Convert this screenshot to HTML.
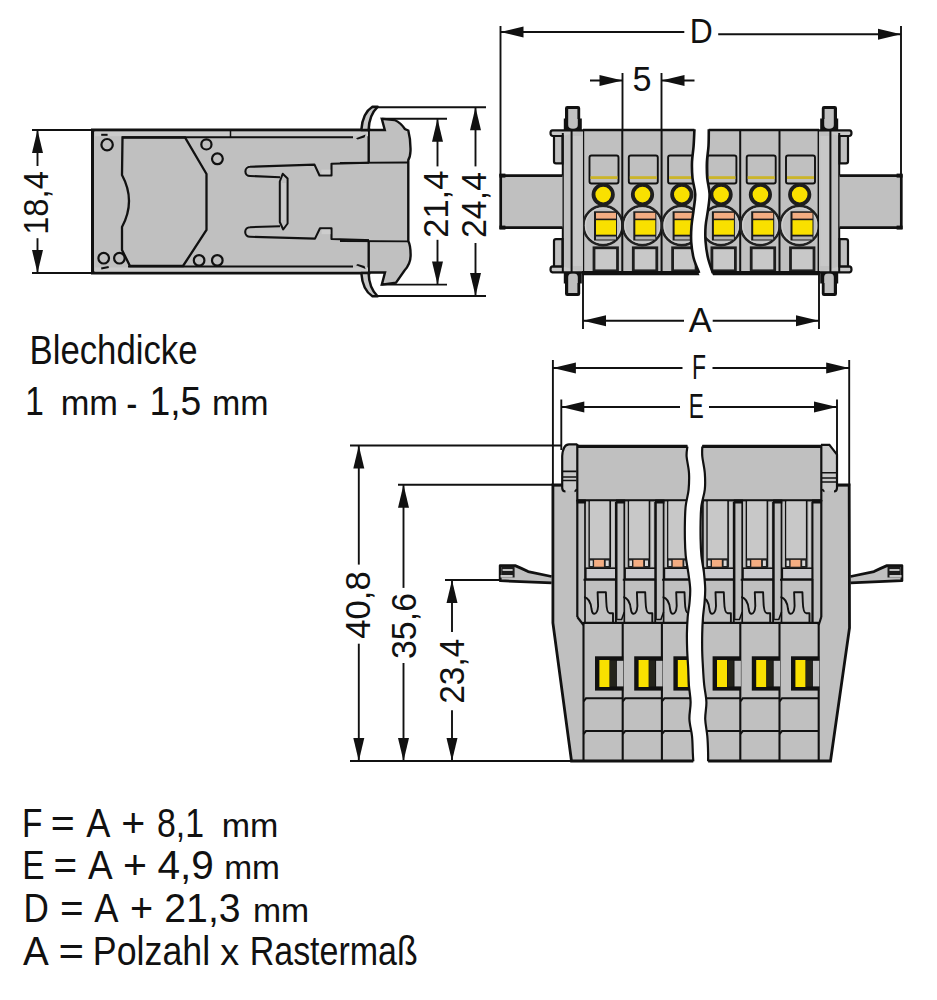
<!DOCTYPE html>
<html><head><meta charset="utf-8"><style>
html,body{margin:0;padding:0;background:#fff;}
svg{display:block;}
text{font-family:"Liberation Sans",sans-serif;fill:#111;}
</style></head><body>
<svg width="937" height="1000" viewBox="0 0 937 1000">
<rect width="937" height="1000" fill="#fff"/>
<text x="29.5" y="364.3" font-size="41.5" text-anchor="start" textLength="168" lengthAdjust="spacingAndGlyphs">Blechdicke</text>
<text transform="translate(25.29,415.40) scale(0.8200,1.000)" x="0" y="0" font-size="40.8">1</text>
<text transform="translate(60.68,415.40) scale(0.8428,0.860)" x="0" y="0" font-size="40.8">mm</text>
<text transform="translate(126.14,417.40) scale(0.8200,1.000)" x="0" y="0" font-size="40.8">-</text>
<text transform="translate(149.42,415.40) scale(0.9149,1.000)" x="0" y="0" font-size="40.8">1,5</text>
<text transform="translate(212.11,415.40) scale(0.8316,0.860)" x="0" y="0" font-size="40.8">mm</text>
<text transform="translate(21.88,836.80) scale(0.8200,1.000)" x="0" y="0" font-size="40.8">F</text>
<text transform="translate(50.82,836.80) scale(1.0071,1.000)" x="0" y="0" font-size="40.8">=</text>
<text transform="translate(86.31,836.80) scale(0.8877,1.000)" x="0" y="0" font-size="40.8">A</text>
<text transform="translate(121.32,836.80) scale(1.0071,1.000)" x="0" y="0" font-size="40.8">+</text>
<text transform="translate(156.93,836.80) scale(0.8303,1.000)" x="0" y="0" font-size="40.8">8,1</text>
<text transform="translate(221.71,836.80) scale(0.8332,0.820)" x="0" y="0" font-size="40.8">mm</text>
<text transform="translate(22.19,879.20) scale(0.8200,1.000)" x="0" y="0" font-size="40.8">E</text>
<text transform="translate(53.55,879.20) scale(0.9920,1.000)" x="0" y="0" font-size="40.8">=</text>
<text transform="translate(87.91,879.20) scale(0.9062,1.000)" x="0" y="0" font-size="40.8">A</text>
<text transform="translate(122.92,879.20) scale(1.0071,1.000)" x="0" y="0" font-size="40.8">+</text>
<text transform="translate(157.52,879.20) scale(0.9949,1.000)" x="0" y="0" font-size="40.8">4,9</text>
<text transform="translate(224.14,879.20) scale(0.8204,0.820)" x="0" y="0" font-size="40.8">mm</text>
<text transform="translate(23.53,922.40) scale(0.8600,1.000)" x="0" y="0" font-size="40.8">D</text>
<text transform="translate(59.95,922.40) scale(0.9920,1.000)" x="0" y="0" font-size="40.8">=</text>
<text transform="translate(94.31,922.40) scale(0.8914,1.000)" x="0" y="0" font-size="40.8">A</text>
<text transform="translate(130.09,922.40) scale(0.9718,1.000)" x="0" y="0" font-size="40.8">+</text>
<text transform="translate(164.32,922.40) scale(0.9603,1.000)" x="0" y="0" font-size="40.8">21,3</text>
<text transform="translate(252.92,922.40) scale(0.8268,0.820)" x="0" y="0" font-size="40.8">mm</text>
<text transform="translate(23.11,964.50) scale(0.9469,1.000)" x="0" y="0" font-size="40.8">A</text>
<text transform="translate(58.49,964.50) scale(1.0725,1.000)" x="0" y="0" font-size="40.8">=</text>
<text transform="translate(92.87,964.50) scale(0.8763,1.000)" x="0" y="0" font-size="40.8">Polzahl</text>
<text transform="translate(220.34,964.50) scale(0.9298,0.920)" x="0" y="0" font-size="40.8">x</text>
<text transform="translate(249.72,964.50) scale(0.8327,1.000)" x="0" y="0" font-size="40.8">Rastermaß</text>
<line x1="32" y1="130" x2="92" y2="130" stroke="#111" stroke-width="1.9"/>
<line x1="32" y1="273" x2="92" y2="273" stroke="#111" stroke-width="1.9"/>
<line x1="37.5" y1="130" x2="37.5" y2="166" stroke="#111" stroke-width="1.9"/>
<line x1="37.5" y1="238.2" x2="37.5" y2="273" stroke="#111" stroke-width="1.9"/>
<polygon points="37.5,130 32.0,153 43.0,153" fill="#111"/>
<polygon points="37.5,273 32.0,250 43.0,250" fill="#111"/>
<text transform="translate(48.2,203) rotate(-90)" x="0" y="0" font-size="34.5" text-anchor="middle" textLength="63.7" lengthAdjust="spacingAndGlyphs">18,4</text>
<path d="M92.5,130 H369 V273 H92.5 Z" fill="#c0c0c0" stroke="none"/>
<path d="M369,162.5 V130 H92.5 V273 H369 V241" fill="none" stroke="#111" stroke-width="3"/>
<rect x="95" y="131.6" width="273" height="4.6" fill="#cbcbcb"/><rect x="95" y="267.4" width="273" height="4.2" fill="#cbcbcb"/>
<line x1="122" y1="137.2" x2="353" y2="137.2" stroke="#111" stroke-width="2"/>
<line x1="128" y1="266.4" x2="353" y2="266.4" stroke="#111" stroke-width="2"/>
<line x1="230.5" y1="130" x2="230.5" y2="137.3" stroke="#111" stroke-width="1.5"/>
<path d="M122.5,137.5 H185 L206.5,174 V230 L183,266 H130 L122,250 V227 Q136,201 122,175 Z" fill="none" stroke="#111" stroke-width="2.3"/>
<circle cx="107.1" cy="144.7" r="5.7" fill="none" stroke="#111" stroke-width="2.2"/>
<circle cx="206.4" cy="144.4" r="5.1" fill="none" stroke="#111" stroke-width="2.2"/>
<circle cx="217.4" cy="158.8" r="5.4" fill="none" stroke="#111" stroke-width="2.2"/>
<circle cx="103.7" cy="258.2" r="5.3" fill="none" stroke="#111" stroke-width="2.2"/>
<circle cx="119.4" cy="258.2" r="5.3" fill="none" stroke="#111" stroke-width="2.2"/>
<circle cx="199.1" cy="260.4" r="5.3" fill="none" stroke="#111" stroke-width="2.2"/>
<circle cx="217.3" cy="260.4" r="5.3" fill="none" stroke="#111" stroke-width="2.2"/>
<path d="M101.2,134.8 L107.6,134.8" stroke="#111" stroke-width="2"/>
<path d="M101.2,268.5 L108.7,267" stroke="#111" stroke-width="2"/>
<polygon points="356,138.2 365.6,134.4 364.5,137.4 357.6,139.6" fill="#111"/>
<polygon points="356,265.3 365.6,269.1 364.5,266.1 357.6,263.9" fill="#111"/>
<path d="M280,177.3 L250,176 A4.6,4.6 0 0 1 250,166.8 L314.5,164.6 L319.5,175.5 H331.5 V163.8 L407.5,161.8" fill="none" stroke="#111" stroke-width="2.1" stroke-linejoin="round"/>
<path d="M280,226.2 L250,227.2 A4.6,4.6 0 0 0 250,236.8 L315,238.6 L320,228.3 H331.5 V239 L407.5,241.3" fill="none" stroke="#111" stroke-width="2.1" stroke-linejoin="round"/>
<rect x="321.3" y="169.6" width="9" height="4.6" fill="#cdcdcd"/><rect x="321.6" y="229.6" width="8.8" height="4.6" fill="#cdcdcd"/>
<path d="M279.8,181.5 L282.7,173.8 L287.6,178.5 V223.5 L283.2,229.5 L279.8,222 Z" fill="#c0c0c0" stroke="#111" stroke-width="2" stroke-linejoin="round"/>
<rect x="281.6" y="183" width="4.2" height="37" fill="#cbcbcb"/>
<path d="M369,130 H384.8 L381.8,118.8 L394.6,120 Q401,123 404.9,129 L408.3,130.5 Q410.8,140 410.5,151 Q410.2,157 408.3,160 V241 Q410.8,246 410.6,256 Q410.4,264 404.5,270.5 L396,282.6 L381.8,284.6 L385,272.5 H369 Z" fill="#c0c0c0"/>
<path d="M369,130 H384.8 L381.8,118.8 L394.6,120 Q401,123 404.9,129 L408.3,130.5 Q410.8,140 410.5,151 Q410.2,157 408.3,160 V241 Q410.8,246 410.6,256 Q410.4,264 404.5,270.5 L396,282.6 L381.8,284.6 L385,272.5 H369" fill="none" stroke="#111" stroke-width="2.4"/>
<line x1="369" y1="130" x2="369" y2="162.5" stroke="#111" stroke-width="1.8"/>
<line x1="369" y1="241" x2="369" y2="273" stroke="#111" stroke-width="1.8"/>
<line x1="340" y1="162.8" x2="408" y2="162.5" stroke="#111" stroke-width="1.8"/>
<line x1="340" y1="241" x2="408" y2="241.3" stroke="#111" stroke-width="1.8"/>
<path d="M361.3,130 Q362.5,113 372.4,106.8 H377.6 Q369,115 368.6,130 Z" fill="#c8c8c8" stroke="#111" stroke-width="2.5" stroke-linejoin="round"/>
<path d="M361.3,273 Q362.5,290 372.4,296.3 H377.6 Q369,288 368.6,273 Z" fill="#c8c8c8" stroke="#111" stroke-width="2.5" stroke-linejoin="round"/>
<line x1="372" y1="107.3" x2="486" y2="107.3" stroke="#111" stroke-width="1.9"/>
<line x1="372" y1="296" x2="486" y2="296" stroke="#111" stroke-width="1.9"/>
<line x1="382" y1="118.8" x2="447" y2="118.8" stroke="#111" stroke-width="1.9"/>
<line x1="382" y1="284.6" x2="447" y2="284.6" stroke="#111" stroke-width="1.9"/>
<line x1="437.5" y1="118.8" x2="437.5" y2="166.4" stroke="#111" stroke-width="1.9"/>
<line x1="437.5" y1="239.8" x2="437.5" y2="284.6" stroke="#111" stroke-width="1.9"/>
<polygon points="437.5,118.8 432.0,141.8 443.0,141.8" fill="#111"/>
<polygon points="437.5,284.6 432.0,261.6 443.0,261.6" fill="#111"/>
<line x1="475.5" y1="107.3" x2="475.5" y2="166.4" stroke="#111" stroke-width="1.9"/>
<line x1="475.5" y1="243" x2="475.5" y2="296" stroke="#111" stroke-width="1.9"/>
<polygon points="475.5,107.3 470.0,130.3 481.0,130.3" fill="#111"/>
<polygon points="475.5,296 470.0,273 481.0,273" fill="#111"/>
<text transform="translate(447.5,204.2) rotate(-90)" x="0" y="0" font-size="34.5" text-anchor="middle" textLength="67" lengthAdjust="spacingAndGlyphs">21,4</text>
<text transform="translate(486,205) rotate(-90)" x="0" y="0" font-size="34.5" text-anchor="middle" textLength="66" lengthAdjust="spacingAndGlyphs">24,4</text>
<line x1="500.5" y1="26" x2="500.5" y2="176" stroke="#111" stroke-width="1.9"/>
<line x1="901" y1="26" x2="901" y2="176" stroke="#111" stroke-width="1.9"/>
<line x1="500.5" y1="32" x2="684.3" y2="32" stroke="#111" stroke-width="1.9"/>
<line x1="718.2" y1="34.3" x2="901" y2="34.3" stroke="#111" stroke-width="1.9"/>
<polygon points="500.5,32 523.5,26.5 523.5,37.5" fill="#111"/>
<polygon points="901,34.3 878,28.799999999999997 878,39.8" fill="#111"/>
<text x="701.3" y="42.5" font-size="34.5" text-anchor="middle" textLength="23" lengthAdjust="spacingAndGlyphs">D</text>
<line x1="622.5" y1="73" x2="622.5" y2="130" stroke="#111" stroke-width="1.9"/>
<line x1="661.5" y1="73" x2="661.5" y2="130" stroke="#111" stroke-width="1.9"/>
<line x1="590" y1="80.5" x2="622.5" y2="80.5" stroke="#111" stroke-width="1.9"/>
<line x1="661.5" y1="80.5" x2="694.5" y2="80.5" stroke="#111" stroke-width="1.9"/>
<polygon points="622.5,80.5 599.5,75.0 599.5,86.0" fill="#111"/>
<polygon points="661.5,80.5 684.5,75.0 684.5,86.0" fill="#111"/>
<text x="642" y="91.3" font-size="34.5" text-anchor="middle" textLength="19" lengthAdjust="spacingAndGlyphs">5</text>
<line x1="583" y1="273" x2="583" y2="329" stroke="#111" stroke-width="1.9"/>
<line x1="819" y1="273" x2="819" y2="329" stroke="#111" stroke-width="1.9"/>
<line x1="583" y1="320.7" x2="684" y2="320.7" stroke="#111" stroke-width="1.9"/>
<line x1="712.7" y1="320.7" x2="819" y2="320.7" stroke="#111" stroke-width="1.9"/>
<polygon points="583,320.7 606,315.2 606,326.2" fill="#111"/>
<polygon points="819,320.7 796,315.2 796,326.2" fill="#111"/>
<text x="700.2" y="331.8" font-size="35" text-anchor="middle" textLength="23" lengthAdjust="spacingAndGlyphs">A</text>
<g>
<g><path d="M565,108.3 Q565,106 567.2,106 H578 Q580.2,106 580.2,108.3 V118.4 H581.8 V131 H563.8 V118.4 H565 Z" fill="#111"/>
<path d="M568.2,109 H577.4 V119 H577.8 V125 Q577.8,128.8 573,128.8 Q568.2,128.8 568.2,125 Z" fill="#c0c0c0"/></g>
<g transform="translate(0,402) scale(1,-1)"><path d="M565,108.3 Q565,106 567.2,106 H578 Q580.2,106 580.2,108.3 V118.4 H581.8 V131 H563.8 V118.4 H565 Z" fill="#111"/>
<path d="M568.2,109 H577.4 V119 H577.8 V125 Q577.8,128.8 573,128.8 Q568.2,128.8 568.2,125 Z" fill="#c0c0c0"/></g>
<rect x="563" y="130" width="20" height="142.5" fill="#c0c0c0"/>
<rect x="572.6" y="136" width="9" height="130" fill="#c8c8c8"/>
<path d="M583,130.3 H552.5 Q550.5,130.5 550.5,133 Q550.5,136 553,136 H563" fill="#c8c8c8" stroke="#111" stroke-width="2.2"/>
<path d="M583,272.3 H552.5 Q550.5,272 550.5,269.5 Q550.5,266.4 553,266.4 H563" fill="#c8c8c8" stroke="#111" stroke-width="2.2"/>
<path d="M562.5,136 H554 V161.5 Q554,163.4 556,163.4 H562.5 Z" fill="#c0c0c0" stroke="#111" stroke-width="2.2"/>
<path d="M562.5,266.4 H554 V241 Q554,239.2 556,239.2 H562.5 Z" fill="#c0c0c0" stroke="#111" stroke-width="2.2"/>
<line x1="562.8" y1="133" x2="562.8" y2="272.5" stroke="#111" stroke-width="2"/>
<line x1="571.6" y1="130" x2="571.6" y2="272.5" stroke="#111" stroke-width="2"/>
<path d="M562.5,175.6 H500.7 V227.6 H562.5 Z" fill="#c0c0c0" stroke="none"/>
<path d="M562.5,175.6 H500.7 V227.6 H562.5" fill="none" stroke="#111" stroke-width="2.7"/>
<rect x="499.4" y="173.6" width="6" height="4" fill="#111"/><rect x="499.4" y="225.6" width="6" height="4" fill="#111"/>
</g>
<g transform="translate(1638,0) scale(-1,1)">
<g><path d="M801,108.3 Q801,106 803.2,106 H814 Q816.2,106 816.2,108.3 V118.4 H817.8 V131 H799.8 V118.4 H801 Z" fill="#111"/>
<path d="M804.2,109 H813.4 V119 H813.8 V125 Q813.8,128.8 809,128.8 Q804.2,128.8 804.2,125 Z" fill="#c0c0c0"/></g>
<g transform="translate(0,402) scale(1,-1)"><path d="M801,108.3 Q801,106 803.2,106 H814 Q816.2,106 816.2,108.3 V118.4 H817.8 V131 H799.8 V118.4 H801 Z" fill="#111"/>
<path d="M804.2,109 H813.4 V119 H813.8 V125 Q813.8,128.8 809,128.8 Q804.2,128.8 804.2,125 Z" fill="#c0c0c0"/></g>
<rect x="799" y="130" width="20" height="142.5" fill="#c0c0c0"/>
<rect x="808.6" y="136" width="9" height="130" fill="#c8c8c8"/>
<path d="M819,130.3 H788.5 Q786.5,130.5 786.5,133 Q786.5,136 789,136 H799" fill="#c8c8c8" stroke="#111" stroke-width="2.2"/>
<path d="M819,272.3 H788.5 Q786.5,272 786.5,269.5 Q786.5,266.4 789,266.4 H799" fill="#c8c8c8" stroke="#111" stroke-width="2.2"/>
<path d="M798.5,136 H790 V161.5 Q790,163.4 792,163.4 H798.5 Z" fill="#c0c0c0" stroke="#111" stroke-width="2.2"/>
<path d="M798.5,266.4 H790 V241 Q790,239.2 792,239.2 H798.5 Z" fill="#c0c0c0" stroke="#111" stroke-width="2.2"/>
<line x1="798.8" y1="133" x2="798.8" y2="272.5" stroke="#111" stroke-width="2"/>
<line x1="807.6" y1="130" x2="807.6" y2="272.5" stroke="#111" stroke-width="2"/>
<path d="M798.5,175.6 H736.7 V227.6 H798.5 Z" fill="#c0c0c0" stroke="none"/>
<path d="M798.5,175.6 H736.7 V227.6 H798.5" fill="none" stroke="#111" stroke-width="2.7"/>
<rect x="735.4" y="173.6" width="6" height="4" fill="#111"/><rect x="735.4" y="225.6" width="6" height="4" fill="#111"/>
</g>
<defs><clipPath id="bodyL"><path d="M583,120 L694.4,120 L694.4,129.2 C694.3,132.0 694.0,140.5 693.6,146.0 C693.2,151.5 692.2,156.7 692.0,162.0 C691.8,167.3 692.0,172.7 692.5,178.0 C693.0,183.3 695.0,188.7 695.2,194.0 C695.4,199.3 694.2,204.7 693.6,210.0 C693.0,215.3 691.9,220.7 691.5,226.0 C691.1,231.3 690.9,236.7 691.2,242.0 C691.6,247.3 692.3,252.8 693.6,258.0 C694.9,263.2 698.3,270.5 699.2,273.0 L699.2,280 L583,280 Z"/></clipPath><clipPath id="bodyR"><path d="M819,120 L708.8,120 L708.8,129.2 C708.8,132.0 708.8,140.5 708.5,146.0 C708.2,151.5 707.1,156.7 706.9,162.0 C706.7,167.3 706.8,172.7 707.2,178.0 C707.7,183.3 709.5,188.7 709.6,194.0 C709.7,199.3 708.7,204.7 708.0,210.0 C707.3,215.3 706.0,220.7 705.6,226.0 C705.2,231.3 705.2,236.7 705.6,242.0 C706.0,247.3 706.8,252.8 708.0,258.0 C709.2,263.2 712.0,270.5 712.8,273.0 L712.8,280 L819,280 Z"/></clipPath></defs>
<g clip-path="url(#bodyL)">
<rect x="583" y="129" width="236" height="146" fill="#c0c0c0"/>
<line x1="583.0" y1="129" x2="583.0" y2="273" stroke="#111" stroke-width="2.4"/>
<rect x="589.5" y="155.5" width="29" height="28" rx="2" fill="#c0c0c0" stroke="#111" stroke-width="1.9"/>
<rect x="590.5" y="176.2" width="27" height="2.8" fill="#cbb52a"/>
<circle cx="603.0" cy="225.5" r="19.6" fill="none" stroke="#222" stroke-width="2.6"/>
<circle cx="603.0" cy="225.5" r="17.5" fill="none" stroke="#cfcfcf" stroke-width="1.2"/>
<circle cx="603.2" cy="194.6" r="9.7" fill="#f9e000" stroke="#1e1e1e" stroke-width="3.8"/>
<rect x="594.0" y="211.3" width="23" height="29.2" fill="#1a1a1a"/>
<rect x="596.0" y="212.8" width="20" height="5.8" fill="#f4ad82"/>
<rect x="596.0" y="220.2" width="20" height="14.5" fill="#f9e000"/>
<rect x="596.0" y="236.5" width="20" height="3" fill="#b4b4b4"/>
<rect x="594.0" y="247.8" width="23.5" height="23" fill="#c8c8c8" stroke="#1e1e1e" stroke-width="2.8"/>
<line x1="622.3" y1="129" x2="622.3" y2="273" stroke="#111" stroke-width="2.0"/>
<rect x="628.8" y="155.5" width="29" height="28" rx="2" fill="#c0c0c0" stroke="#111" stroke-width="1.9"/>
<rect x="629.8" y="176.2" width="27" height="2.8" fill="#cbb52a"/>
<circle cx="642.3" cy="225.5" r="19.6" fill="none" stroke="#222" stroke-width="2.6"/>
<circle cx="642.3" cy="225.5" r="17.5" fill="none" stroke="#cfcfcf" stroke-width="1.2"/>
<circle cx="642.5" cy="194.6" r="9.7" fill="#f9e000" stroke="#1e1e1e" stroke-width="3.8"/>
<rect x="633.3" y="211.3" width="23" height="29.2" fill="#1a1a1a"/>
<rect x="635.3" y="212.8" width="20" height="5.8" fill="#f4ad82"/>
<rect x="635.3" y="220.2" width="20" height="14.5" fill="#f9e000"/>
<rect x="635.3" y="236.5" width="20" height="3" fill="#b4b4b4"/>
<rect x="633.3" y="247.8" width="23.5" height="23" fill="#c8c8c8" stroke="#1e1e1e" stroke-width="2.8"/>
<line x1="661.6" y1="129" x2="661.6" y2="273" stroke="#111" stroke-width="2.0"/>
<rect x="668.1" y="155.5" width="29" height="28" rx="2" fill="#c0c0c0" stroke="#111" stroke-width="1.9"/>
<rect x="669.1" y="176.2" width="27" height="2.8" fill="#cbb52a"/>
<circle cx="681.6" cy="225.5" r="19.6" fill="none" stroke="#222" stroke-width="2.6"/>
<circle cx="681.6" cy="225.5" r="17.5" fill="none" stroke="#cfcfcf" stroke-width="1.2"/>
<circle cx="681.8000000000001" cy="194.6" r="9.7" fill="#f9e000" stroke="#1e1e1e" stroke-width="3.8"/>
<rect x="672.6" y="211.3" width="23" height="29.2" fill="#1a1a1a"/>
<rect x="674.6" y="212.8" width="20" height="5.8" fill="#f4ad82"/>
<rect x="674.6" y="220.2" width="20" height="14.5" fill="#f9e000"/>
<rect x="674.6" y="236.5" width="20" height="3" fill="#b4b4b4"/>
<rect x="672.6" y="247.8" width="23.5" height="23" fill="#c8c8c8" stroke="#1e1e1e" stroke-width="2.8"/>
<line x1="700.9" y1="129" x2="700.9" y2="273" stroke="#111" stroke-width="2.0"/>
<rect x="707.4" y="155.5" width="29" height="28" rx="2" fill="#c0c0c0" stroke="#111" stroke-width="1.9"/>
<rect x="708.4" y="176.2" width="27" height="2.8" fill="#cbb52a"/>
<circle cx="720.9" cy="225.5" r="19.6" fill="none" stroke="#222" stroke-width="2.6"/>
<circle cx="720.9" cy="225.5" r="17.5" fill="none" stroke="#cfcfcf" stroke-width="1.2"/>
<circle cx="721.1" cy="194.6" r="9.7" fill="#f9e000" stroke="#1e1e1e" stroke-width="3.8"/>
<rect x="711.9" y="211.3" width="23" height="29.2" fill="#1a1a1a"/>
<rect x="713.9" y="212.8" width="20" height="5.8" fill="#f4ad82"/>
<rect x="713.9" y="220.2" width="20" height="14.5" fill="#f9e000"/>
<rect x="713.9" y="236.5" width="20" height="3" fill="#b4b4b4"/>
<rect x="711.9" y="247.8" width="23.5" height="23" fill="#c8c8c8" stroke="#1e1e1e" stroke-width="2.8"/>
<line x1="740.2" y1="129" x2="740.2" y2="273" stroke="#111" stroke-width="2.0"/>
<rect x="746.7" y="155.5" width="29" height="28" rx="2" fill="#c0c0c0" stroke="#111" stroke-width="1.9"/>
<rect x="747.7" y="176.2" width="27" height="2.8" fill="#cbb52a"/>
<circle cx="760.2" cy="225.5" r="19.6" fill="none" stroke="#222" stroke-width="2.6"/>
<circle cx="760.2" cy="225.5" r="17.5" fill="none" stroke="#cfcfcf" stroke-width="1.2"/>
<circle cx="760.4000000000001" cy="194.6" r="9.7" fill="#f9e000" stroke="#1e1e1e" stroke-width="3.8"/>
<rect x="751.2" y="211.3" width="23" height="29.2" fill="#1a1a1a"/>
<rect x="753.2" y="212.8" width="20" height="5.8" fill="#f4ad82"/>
<rect x="753.2" y="220.2" width="20" height="14.5" fill="#f9e000"/>
<rect x="753.2" y="236.5" width="20" height="3" fill="#b4b4b4"/>
<rect x="751.2" y="247.8" width="23.5" height="23" fill="#c8c8c8" stroke="#1e1e1e" stroke-width="2.8"/>
<line x1="779.5" y1="129" x2="779.5" y2="273" stroke="#111" stroke-width="2.0"/>
<rect x="786.0" y="155.5" width="29" height="28" rx="2" fill="#c0c0c0" stroke="#111" stroke-width="1.9"/>
<rect x="787.0" y="176.2" width="27" height="2.8" fill="#cbb52a"/>
<circle cx="799.5" cy="225.5" r="19.6" fill="none" stroke="#222" stroke-width="2.6"/>
<circle cx="799.5" cy="225.5" r="17.5" fill="none" stroke="#cfcfcf" stroke-width="1.2"/>
<circle cx="799.7" cy="194.6" r="9.7" fill="#f9e000" stroke="#1e1e1e" stroke-width="3.8"/>
<rect x="790.5" y="211.3" width="23" height="29.2" fill="#1a1a1a"/>
<rect x="792.5" y="212.8" width="20" height="5.8" fill="#f4ad82"/>
<rect x="792.5" y="220.2" width="20" height="14.5" fill="#f9e000"/>
<rect x="792.5" y="236.5" width="20" height="3" fill="#b4b4b4"/>
<rect x="790.5" y="247.8" width="23.5" height="23" fill="#c8c8c8" stroke="#1e1e1e" stroke-width="2.8"/>
<line x1="818.8" y1="129" x2="818.8" y2="273" stroke="#111" stroke-width="2.4"/>
</g>
<g clip-path="url(#bodyR)">
<rect x="583" y="129" width="236" height="146" fill="#c0c0c0"/>
<line x1="583.0" y1="129" x2="583.0" y2="273" stroke="#111" stroke-width="2.4"/>
<rect x="589.5" y="155.5" width="29" height="28" rx="2" fill="#c0c0c0" stroke="#111" stroke-width="1.9"/>
<rect x="590.5" y="176.2" width="27" height="2.8" fill="#cbb52a"/>
<circle cx="603.0" cy="225.5" r="19.6" fill="none" stroke="#222" stroke-width="2.6"/>
<circle cx="603.0" cy="225.5" r="17.5" fill="none" stroke="#cfcfcf" stroke-width="1.2"/>
<circle cx="603.2" cy="194.6" r="9.7" fill="#f9e000" stroke="#1e1e1e" stroke-width="3.8"/>
<rect x="594.0" y="211.3" width="23" height="29.2" fill="#1a1a1a"/>
<rect x="596.0" y="212.8" width="20" height="5.8" fill="#f4ad82"/>
<rect x="596.0" y="220.2" width="20" height="14.5" fill="#f9e000"/>
<rect x="596.0" y="236.5" width="20" height="3" fill="#b4b4b4"/>
<rect x="594.0" y="247.8" width="23.5" height="23" fill="#c8c8c8" stroke="#1e1e1e" stroke-width="2.8"/>
<line x1="622.3" y1="129" x2="622.3" y2="273" stroke="#111" stroke-width="2.0"/>
<rect x="628.8" y="155.5" width="29" height="28" rx="2" fill="#c0c0c0" stroke="#111" stroke-width="1.9"/>
<rect x="629.8" y="176.2" width="27" height="2.8" fill="#cbb52a"/>
<circle cx="642.3" cy="225.5" r="19.6" fill="none" stroke="#222" stroke-width="2.6"/>
<circle cx="642.3" cy="225.5" r="17.5" fill="none" stroke="#cfcfcf" stroke-width="1.2"/>
<circle cx="642.5" cy="194.6" r="9.7" fill="#f9e000" stroke="#1e1e1e" stroke-width="3.8"/>
<rect x="633.3" y="211.3" width="23" height="29.2" fill="#1a1a1a"/>
<rect x="635.3" y="212.8" width="20" height="5.8" fill="#f4ad82"/>
<rect x="635.3" y="220.2" width="20" height="14.5" fill="#f9e000"/>
<rect x="635.3" y="236.5" width="20" height="3" fill="#b4b4b4"/>
<rect x="633.3" y="247.8" width="23.5" height="23" fill="#c8c8c8" stroke="#1e1e1e" stroke-width="2.8"/>
<line x1="661.6" y1="129" x2="661.6" y2="273" stroke="#111" stroke-width="2.0"/>
<rect x="668.1" y="155.5" width="29" height="28" rx="2" fill="#c0c0c0" stroke="#111" stroke-width="1.9"/>
<rect x="669.1" y="176.2" width="27" height="2.8" fill="#cbb52a"/>
<circle cx="681.6" cy="225.5" r="19.6" fill="none" stroke="#222" stroke-width="2.6"/>
<circle cx="681.6" cy="225.5" r="17.5" fill="none" stroke="#cfcfcf" stroke-width="1.2"/>
<circle cx="681.8000000000001" cy="194.6" r="9.7" fill="#f9e000" stroke="#1e1e1e" stroke-width="3.8"/>
<rect x="672.6" y="211.3" width="23" height="29.2" fill="#1a1a1a"/>
<rect x="674.6" y="212.8" width="20" height="5.8" fill="#f4ad82"/>
<rect x="674.6" y="220.2" width="20" height="14.5" fill="#f9e000"/>
<rect x="674.6" y="236.5" width="20" height="3" fill="#b4b4b4"/>
<rect x="672.6" y="247.8" width="23.5" height="23" fill="#c8c8c8" stroke="#1e1e1e" stroke-width="2.8"/>
<line x1="700.9" y1="129" x2="700.9" y2="273" stroke="#111" stroke-width="2.0"/>
<rect x="707.4" y="155.5" width="29" height="28" rx="2" fill="#c0c0c0" stroke="#111" stroke-width="1.9"/>
<rect x="708.4" y="176.2" width="27" height="2.8" fill="#cbb52a"/>
<circle cx="720.9" cy="225.5" r="19.6" fill="none" stroke="#222" stroke-width="2.6"/>
<circle cx="720.9" cy="225.5" r="17.5" fill="none" stroke="#cfcfcf" stroke-width="1.2"/>
<circle cx="721.1" cy="194.6" r="9.7" fill="#f9e000" stroke="#1e1e1e" stroke-width="3.8"/>
<rect x="711.9" y="211.3" width="23" height="29.2" fill="#1a1a1a"/>
<rect x="713.9" y="212.8" width="20" height="5.8" fill="#f4ad82"/>
<rect x="713.9" y="220.2" width="20" height="14.5" fill="#f9e000"/>
<rect x="713.9" y="236.5" width="20" height="3" fill="#b4b4b4"/>
<rect x="711.9" y="247.8" width="23.5" height="23" fill="#c8c8c8" stroke="#1e1e1e" stroke-width="2.8"/>
<line x1="740.2" y1="129" x2="740.2" y2="273" stroke="#111" stroke-width="2.0"/>
<rect x="746.7" y="155.5" width="29" height="28" rx="2" fill="#c0c0c0" stroke="#111" stroke-width="1.9"/>
<rect x="747.7" y="176.2" width="27" height="2.8" fill="#cbb52a"/>
<circle cx="760.2" cy="225.5" r="19.6" fill="none" stroke="#222" stroke-width="2.6"/>
<circle cx="760.2" cy="225.5" r="17.5" fill="none" stroke="#cfcfcf" stroke-width="1.2"/>
<circle cx="760.4000000000001" cy="194.6" r="9.7" fill="#f9e000" stroke="#1e1e1e" stroke-width="3.8"/>
<rect x="751.2" y="211.3" width="23" height="29.2" fill="#1a1a1a"/>
<rect x="753.2" y="212.8" width="20" height="5.8" fill="#f4ad82"/>
<rect x="753.2" y="220.2" width="20" height="14.5" fill="#f9e000"/>
<rect x="753.2" y="236.5" width="20" height="3" fill="#b4b4b4"/>
<rect x="751.2" y="247.8" width="23.5" height="23" fill="#c8c8c8" stroke="#1e1e1e" stroke-width="2.8"/>
<line x1="779.5" y1="129" x2="779.5" y2="273" stroke="#111" stroke-width="2.0"/>
<rect x="786.0" y="155.5" width="29" height="28" rx="2" fill="#c0c0c0" stroke="#111" stroke-width="1.9"/>
<rect x="787.0" y="176.2" width="27" height="2.8" fill="#cbb52a"/>
<circle cx="799.5" cy="225.5" r="19.6" fill="none" stroke="#222" stroke-width="2.6"/>
<circle cx="799.5" cy="225.5" r="17.5" fill="none" stroke="#cfcfcf" stroke-width="1.2"/>
<circle cx="799.7" cy="194.6" r="9.7" fill="#f9e000" stroke="#1e1e1e" stroke-width="3.8"/>
<rect x="790.5" y="211.3" width="23" height="29.2" fill="#1a1a1a"/>
<rect x="792.5" y="212.8" width="20" height="5.8" fill="#f4ad82"/>
<rect x="792.5" y="220.2" width="20" height="14.5" fill="#f9e000"/>
<rect x="792.5" y="236.5" width="20" height="3" fill="#b4b4b4"/>
<rect x="790.5" y="247.8" width="23.5" height="23" fill="#c8c8c8" stroke="#1e1e1e" stroke-width="2.8"/>
<line x1="818.8" y1="129" x2="818.8" y2="273" stroke="#111" stroke-width="2.4"/>
</g>
<path d="M583,130 H694.4 L694.4,129.2 C694.3,132.0 694.0,140.5 693.6,146.0 C693.2,151.5 692.2,156.7 692.0,162.0 C691.8,167.3 692.0,172.7 692.5,178.0 C693.0,183.3 695.0,188.7 695.2,194.0 C695.4,199.3 694.2,204.7 693.6,210.0 C693.0,215.3 691.9,220.7 691.5,226.0 C691.1,231.3 690.9,236.7 691.2,242.0 C691.6,247.3 692.3,252.8 693.6,258.0 C694.9,263.2 698.3,270.5 699.2,273.0" fill="none" stroke="#111" stroke-width="2.6"/>
<path d="M819,130 H708.8 L708.8,129.2 C708.8,132.0 708.8,140.5 708.5,146.0 C708.2,151.5 707.1,156.7 706.9,162.0 C706.7,167.3 706.8,172.7 707.2,178.0 C707.7,183.3 709.5,188.7 709.6,194.0 C709.7,199.3 708.7,204.7 708.0,210.0 C707.3,215.3 706.0,220.7 705.6,226.0 C705.2,231.3 705.2,236.7 705.6,242.0 C706.0,247.3 706.8,252.8 708.0,258.0 C709.2,263.2 712.0,270.5 712.8,273.0" fill="none" stroke="#111" stroke-width="2.6"/>
<path d="M582,271 H697.5 L699.5,275.2 H582 Z" fill="#111"/>
<path d="M711,271 H820 V275.2 H713 Z" fill="#111"/>
<line x1="552.9" y1="360" x2="552.9" y2="486" stroke="#111" stroke-width="1.9"/>
<line x1="849.2" y1="360" x2="849.2" y2="486" stroke="#111" stroke-width="1.9"/>
<line x1="552.9" y1="368" x2="682.5" y2="368" stroke="#111" stroke-width="1.9"/>
<line x1="712.5" y1="368" x2="849.2" y2="368" stroke="#111" stroke-width="1.9"/>
<polygon points="552.9,368 575.9,362.5 575.9,373.5" fill="#111"/>
<polygon points="849.2,368 826.2,362.5 826.2,373.5" fill="#111"/>
<text x="699" y="378.8" font-size="34.5" text-anchor="middle" textLength="14" lengthAdjust="spacingAndGlyphs">F</text>
<line x1="561.3" y1="399.5" x2="561.3" y2="450" stroke="#111" stroke-width="1.9"/>
<line x1="837" y1="399.5" x2="837" y2="456" stroke="#111" stroke-width="1.9"/>
<line x1="561.3" y1="407" x2="680" y2="407" stroke="#111" stroke-width="1.9"/>
<line x1="709" y1="407" x2="837" y2="407" stroke="#111" stroke-width="1.9"/>
<polygon points="561.3,407 584.3,401.5 584.3,412.5" fill="#111"/>
<polygon points="837,407 814,401.5 814,412.5" fill="#111"/>
<text x="696.3" y="417.5" font-size="34.5" text-anchor="middle" textLength="15" lengthAdjust="spacingAndGlyphs">E</text>
<line x1="350" y1="445.5" x2="562" y2="445.5" stroke="#111" stroke-width="1.9"/>
<line x1="398" y1="484.8" x2="553" y2="484.8" stroke="#111" stroke-width="1.9"/>
<line x1="445" y1="580" x2="500" y2="580" stroke="#111" stroke-width="1.9"/>
<line x1="350" y1="761" x2="572" y2="761" stroke="#111" stroke-width="1.9"/>
<line x1="358.8" y1="445.5" x2="358.8" y2="564.6" stroke="#111" stroke-width="1.9"/>
<line x1="358.8" y1="643.7" x2="358.8" y2="761" stroke="#111" stroke-width="1.9"/>
<polygon points="358.8,445.5 353.3,468.5 364.3,468.5" fill="#111"/>
<polygon points="358.8,761 353.3,738 364.3,738" fill="#111"/>
<line x1="403.5" y1="484.8" x2="403.5" y2="587.9" stroke="#111" stroke-width="1.9"/>
<line x1="403.5" y1="663" x2="403.5" y2="761" stroke="#111" stroke-width="1.9"/>
<polygon points="403.5,484.8 398.0,507.8 409.0,507.8" fill="#111"/>
<polygon points="403.5,761 398.0,738 409.0,738" fill="#111"/>
<line x1="452" y1="580" x2="452" y2="632" stroke="#111" stroke-width="1.9"/>
<line x1="452" y1="710.3" x2="452" y2="761" stroke="#111" stroke-width="1.9"/>
<polygon points="452,580 446.5,603 457.5,603" fill="#111"/>
<polygon points="452,761 446.5,738 457.5,738" fill="#111"/>
<text transform="translate(369.5,605) rotate(-90)" x="0" y="0" font-size="34.5" text-anchor="middle" textLength="67.5" lengthAdjust="spacingAndGlyphs">40,8</text>
<text transform="translate(415.5,626) rotate(-90)" x="0" y="0" font-size="34.5" text-anchor="middle" textLength="66" lengthAdjust="spacingAndGlyphs">35,6</text>
<text transform="translate(464,671.2) rotate(-90)" x="0" y="0" font-size="34.5" text-anchor="middle" textLength="65" lengthAdjust="spacingAndGlyphs">23,4</text>
<g>
<path d="M850.5,576.5 L874,571.6 Q880,568.5 887,565.6 H901.9 V580.7 L850.5,582.9" fill="#c0c0c0" stroke="#111" stroke-width="2.8" stroke-linejoin="round"/>
<rect x="887.5" y="566.5" width="13" height="11" fill="#1c1c1c"/>
<rect x="889.5" y="569" width="10" height="2" fill="#bdbdbd"/>
<rect x="889.5" y="575" width="12" height="2.5" fill="#c8c8c8"/>
</g>
<g transform="translate(1402.1,0) scale(-1,1)">
<path d="M850.5,576.5 L874,571.6 Q880,568.5 887,565.6 H901.9 V580.7 L850.5,582.9" fill="#c0c0c0" stroke="#111" stroke-width="2.8" stroke-linejoin="round"/>
<rect x="887.5" y="566.5" width="13" height="11" fill="#1c1c1c"/>
<rect x="889.5" y="569" width="10" height="2" fill="#bdbdbd"/>
<rect x="889.5" y="575" width="12" height="2.5" fill="#c8c8c8"/>
</g>
<defs><clipPath id="bvL"><path d="M540,430 L687.4,430 L687.4,446.6 C687.3,448.2 686.3,452.1 686.6,456.5 C686.9,460.9 688.7,467.5 689.0,473.0 C689.3,478.5 689.1,484.1 688.6,489.6 C688.1,495.1 686.3,500.5 685.7,506.0 C685.1,511.5 685.0,517.1 684.9,522.6 C684.8,528.1 684.8,533.5 684.9,539.0 C685.0,544.5 685.2,550.2 685.7,555.7 C686.2,561.2 687.5,566.7 688.2,572.2 C689.0,577.7 690.0,583.7 690.2,588.8 C690.4,593.9 689.9,598.3 689.5,603.0 C689.1,607.7 688.1,611.8 687.7,617.0 C687.3,622.2 687.0,628.3 686.9,634.0 C686.8,639.7 687.0,645.3 687.2,651.0 C687.4,656.7 687.9,662.3 688.2,668.0 C688.5,673.7 688.5,679.3 688.9,685.0 C689.3,690.7 690.5,696.3 690.6,702.0 C690.7,707.7 689.2,713.3 689.4,719.0 C689.6,724.7 691.4,730.4 692.0,736.0 C692.6,741.6 692.6,748.6 692.8,752.8 C693.0,757.0 693.2,759.9 693.3,761.3 L693.5,780 L540,780 Z"/></clipPath><clipPath id="bvR"><path d="M870,430 L702.3,430 L702.3,446.6 C702.3,448.2 701.9,452.1 702.3,456.5 C702.7,460.9 704.4,467.5 704.8,473.0 C705.2,478.5 705.4,484.1 704.8,489.6 C704.2,495.1 702.1,500.5 701.4,506.0 C700.7,511.5 700.7,517.1 700.6,522.6 C700.5,528.1 700.5,533.5 700.6,539.0 C700.7,544.5 700.9,550.2 701.4,555.7 C701.9,561.2 703.3,566.7 703.9,572.2 C704.5,577.7 705.1,583.7 705.2,588.8 C705.3,593.9 704.9,598.3 704.5,603.0 C704.1,607.7 703.4,611.8 703.0,617.0 C702.6,622.2 702.3,628.3 702.2,634.0 C702.1,639.7 702.1,645.3 702.2,651.0 C702.3,656.7 702.7,662.3 703.0,668.0 C703.3,673.7 703.6,679.3 704.2,685.0 C704.8,690.7 706.2,696.3 706.4,702.0 C706.6,707.7 705.1,713.3 705.2,719.0 C705.4,724.7 706.8,730.4 707.3,736.0 C707.8,741.6 708.0,748.6 708.1,752.8 C708.2,757.0 708.1,759.9 708.1,761.3 L708.3,780 L870,780 Z"/></clipPath></defs>
<g clip-path="url(#bvL)">
<path d="M552.9,485 L552.9,623 L571.5,761 H830.5 L849.5,628 L849.2,485 Z" fill="#c0c0c0" stroke="#111" stroke-width="2.8"/>
<path d="M562.2,489 V456 Q563,444.3 569,444.3 H576.5 L578.6,446 V491 H562.2 Z" fill="#c8c8c8"/>
<path d="M565.5,491.5 Q562.4,491.5 562.2,488 V456 Q563,444.3 569,444.3 H576.5 L578.6,446" fill="none" stroke="#111" stroke-width="2.2"/>
<path d="M574.5,491.5 Q576,491 576.6,489" fill="none" stroke="#111" stroke-width="1.8"/>
<line x1="552.9" y1="485.2" x2="562.2" y2="485.2" stroke="#111" stroke-width="2.2"/>
<line x1="563" y1="471.4" x2="576.5" y2="471.4" stroke="#111" stroke-width="1.6"/>
<line x1="563" y1="477" x2="576.5" y2="477" stroke="#111" stroke-width="1.6"/>
<line x1="563" y1="480.5" x2="576.5" y2="480.5" stroke="#111" stroke-width="1.6"/>
<path d="M837,484 V454.6 L829.4,444.8 H822 V491 H837 Z" fill="#c8c8c8"/>
<path d="M834,491.5 Q836.8,491.5 837,488 V454.6 L829.4,444.8 H821" fill="none" stroke="#111" stroke-width="2.2"/>
<path d="M824.5,491.5 Q823,491 822.4,489" fill="none" stroke="#111" stroke-width="1.8"/>
<line x1="837" y1="485.2" x2="849.2" y2="485.2" stroke="#111" stroke-width="2.2"/>
<line x1="822" y1="472.8" x2="836" y2="472.8" stroke="#111" stroke-width="1.6"/>
<line x1="822" y1="478" x2="836" y2="478" stroke="#111" stroke-width="1.6"/>
<line x1="822" y1="482" x2="836" y2="482" stroke="#111" stroke-width="1.6"/>
<rect x="577.3" y="446.3" width="244" height="54" fill="#c0c0c0" stroke="#111" stroke-width="2.2"/>
<line x1="577.3" y1="446.3" x2="821.3" y2="446.3" stroke="#111" stroke-width="3.2"/>
<line x1="577.3" y1="500" x2="577.3" y2="617" stroke="#111" stroke-width="2.2"/>
<line x1="577.3" y1="617" x2="583.5" y2="625" stroke="#111" stroke-width="2.2"/>
<line x1="821.3" y1="500" x2="821.3" y2="617" stroke="#111" stroke-width="2.2"/>
<line x1="821.3" y1="617" x2="818.7" y2="625" stroke="#111" stroke-width="2.2"/>
<rect x="576.6999999999999" y="499.5" width="9.1" height="4" fill="#111"/>
<line x1="585.0" y1="500" x2="585.0" y2="622" stroke="#111" stroke-width="1.7"/>
<line x1="589.1999999999999" y1="500" x2="589.1999999999999" y2="567.5" stroke="#111" stroke-width="1.5"/>
<rect x="589.9" y="501.5" width="19.8" height="57" fill="#c8c8c8"/>
<line x1="610.1999999999999" y1="500" x2="610.1999999999999" y2="567.5" stroke="#111" stroke-width="1.6"/>
<line x1="615.6999999999999" y1="502" x2="615.6999999999999" y2="580" stroke="#111" stroke-width="1.5"/>
<line x1="613.0999999999999" y1="502" x2="613.0999999999999" y2="566" stroke="#d2d2d2" stroke-width="1.2"/>
<rect x="589.1999999999999" y="558.3" width="21" height="9.5" fill="#222"/>
<rect x="594.0999999999999" y="559.9" width="9.8" height="6.8" fill="#f4ad82"/>
<rect x="590.0999999999999" y="560.5" width="2.6" height="5.5" fill="#d8d8d8"/>
<rect x="605.6999999999999" y="560.5" width="3" height="5.5" fill="#d8d8d8"/>
<rect x="585.8" y="568.2" width="30" height="11" fill="#c9c9cc" stroke="#111" stroke-width="1.6"/>
<path d="M583.5,579.7 H615.9" fill="none" stroke="#111" stroke-width="1.9"/>
<line x1="615.9" y1="579" x2="615.9" y2="622.5" stroke="#111" stroke-width="1.9"/>
<path d="M584.0999999999999,597 C588.3,598 590.8,602 591.5,609 Q592.3,614 594.3,613.8 Q597.5999999999999,613.5 598.0999999999999,606 L597.5999999999999,592.2 H605.9 L606.3,602 Q606.5999999999999,613 609.8,613.3 H613.0 V622" fill="none" stroke="#111" stroke-width="1.9" stroke-linejoin="round"/>
<path d="M624.3,612 L621.5999999999999,619.5 H617.0999999999999" fill="none" stroke="#111" stroke-width="1.6"/>
<line x1="616.5999999999999" y1="500" x2="616.5999999999999" y2="620" stroke="#111" stroke-width="1.8"/>
<rect x="615.9999999999999" y="499.5" width="9.1" height="4" fill="#111"/>
<line x1="624.3" y1="500" x2="624.3" y2="622" stroke="#111" stroke-width="1.7"/>
<line x1="628.4999999999999" y1="500" x2="628.4999999999999" y2="567.5" stroke="#111" stroke-width="1.5"/>
<rect x="629.1999999999999" y="501.5" width="19.8" height="57" fill="#c8c8c8"/>
<line x1="649.4999999999999" y1="500" x2="649.4999999999999" y2="567.5" stroke="#111" stroke-width="1.6"/>
<line x1="654.9999999999999" y1="502" x2="654.9999999999999" y2="580" stroke="#111" stroke-width="1.5"/>
<line x1="652.3999999999999" y1="502" x2="652.3999999999999" y2="566" stroke="#d2d2d2" stroke-width="1.2"/>
<rect x="628.4999999999999" y="558.3" width="21" height="9.5" fill="#222"/>
<rect x="633.3999999999999" y="559.9" width="9.8" height="6.8" fill="#f4ad82"/>
<rect x="629.3999999999999" y="560.5" width="2.6" height="5.5" fill="#d8d8d8"/>
<rect x="644.9999999999999" y="560.5" width="3" height="5.5" fill="#d8d8d8"/>
<rect x="625.0999999999999" y="568.2" width="30" height="11" fill="#c9c9cc" stroke="#111" stroke-width="1.6"/>
<path d="M622.8,579.7 H655.1999999999999" fill="none" stroke="#111" stroke-width="1.9"/>
<line x1="655.1999999999999" y1="579" x2="655.1999999999999" y2="622.5" stroke="#111" stroke-width="1.9"/>
<path d="M623.3999999999999,597 C627.5999999999999,598 630.0999999999999,602 630.8,609 Q631.5999999999999,614 633.5999999999999,613.8 Q636.8999999999999,613.5 637.3999999999999,606 L636.8999999999999,592.2 H645.1999999999999 L645.5999999999999,602 Q645.8999999999999,613 649.0999999999999,613.3 H652.3 V622" fill="none" stroke="#111" stroke-width="1.9" stroke-linejoin="round"/>
<path d="M663.5999999999999,612 L660.8999999999999,619.5 H656.3999999999999" fill="none" stroke="#111" stroke-width="1.6"/>
<line x1="655.9" y1="500" x2="655.9" y2="620" stroke="#111" stroke-width="1.8"/>
<rect x="655.3" y="499.5" width="9.1" height="4" fill="#111"/>
<line x1="663.6" y1="500" x2="663.6" y2="622" stroke="#111" stroke-width="1.7"/>
<line x1="667.8" y1="500" x2="667.8" y2="567.5" stroke="#111" stroke-width="1.5"/>
<rect x="668.5" y="501.5" width="19.8" height="57" fill="#c8c8c8"/>
<line x1="688.8" y1="500" x2="688.8" y2="567.5" stroke="#111" stroke-width="1.6"/>
<line x1="694.3" y1="502" x2="694.3" y2="580" stroke="#111" stroke-width="1.5"/>
<line x1="691.6999999999999" y1="502" x2="691.6999999999999" y2="566" stroke="#d2d2d2" stroke-width="1.2"/>
<rect x="667.8" y="558.3" width="21" height="9.5" fill="#222"/>
<rect x="672.6999999999999" y="559.9" width="9.8" height="6.8" fill="#f4ad82"/>
<rect x="668.6999999999999" y="560.5" width="2.6" height="5.5" fill="#d8d8d8"/>
<rect x="684.3" y="560.5" width="3" height="5.5" fill="#d8d8d8"/>
<rect x="664.4" y="568.2" width="30" height="11" fill="#c9c9cc" stroke="#111" stroke-width="1.6"/>
<path d="M662.1,579.7 H694.5" fill="none" stroke="#111" stroke-width="1.9"/>
<line x1="694.5" y1="579" x2="694.5" y2="622.5" stroke="#111" stroke-width="1.9"/>
<path d="M662.6999999999999,597 C666.9,598 669.4,602 670.1,609 Q670.9,614 672.9,613.8 Q676.1999999999999,613.5 676.6999999999999,606 L676.1999999999999,592.2 H684.5 L684.9,602 Q685.1999999999999,613 688.4,613.3 H691.6 V622" fill="none" stroke="#111" stroke-width="1.9" stroke-linejoin="round"/>
<path d="M702.9,612 L700.1999999999999,619.5 H695.6999999999999" fill="none" stroke="#111" stroke-width="1.6"/>
<line x1="695.1999999999999" y1="500" x2="695.1999999999999" y2="620" stroke="#111" stroke-width="1.8"/>
<rect x="694.5999999999999" y="499.5" width="9.1" height="4" fill="#111"/>
<line x1="702.9" y1="500" x2="702.9" y2="622" stroke="#111" stroke-width="1.7"/>
<line x1="707.0999999999999" y1="500" x2="707.0999999999999" y2="567.5" stroke="#111" stroke-width="1.5"/>
<rect x="707.8" y="501.5" width="19.8" height="57" fill="#c8c8c8"/>
<line x1="728.0999999999999" y1="500" x2="728.0999999999999" y2="567.5" stroke="#111" stroke-width="1.6"/>
<line x1="733.5999999999999" y1="502" x2="733.5999999999999" y2="580" stroke="#111" stroke-width="1.5"/>
<line x1="730.9999999999999" y1="502" x2="730.9999999999999" y2="566" stroke="#d2d2d2" stroke-width="1.2"/>
<rect x="707.0999999999999" y="558.3" width="21" height="9.5" fill="#222"/>
<rect x="711.9999999999999" y="559.9" width="9.8" height="6.8" fill="#f4ad82"/>
<rect x="707.9999999999999" y="560.5" width="2.6" height="5.5" fill="#d8d8d8"/>
<rect x="723.5999999999999" y="560.5" width="3" height="5.5" fill="#d8d8d8"/>
<rect x="703.6999999999999" y="568.2" width="30" height="11" fill="#c9c9cc" stroke="#111" stroke-width="1.6"/>
<path d="M701.4,579.7 H733.8" fill="none" stroke="#111" stroke-width="1.9"/>
<line x1="733.8" y1="579" x2="733.8" y2="622.5" stroke="#111" stroke-width="1.9"/>
<path d="M701.9999999999999,597 C706.1999999999999,598 708.6999999999999,602 709.4,609 Q710.1999999999999,614 712.1999999999999,613.8 Q715.4999999999999,613.5 715.9999999999999,606 L715.4999999999999,592.2 H723.8 L724.1999999999999,602 Q724.4999999999999,613 727.6999999999999,613.3 H730.9 V622" fill="none" stroke="#111" stroke-width="1.9" stroke-linejoin="round"/>
<path d="M742.1999999999999,612 L739.4999999999999,619.5 H734.9999999999999" fill="none" stroke="#111" stroke-width="1.6"/>
<line x1="734.5" y1="500" x2="734.5" y2="620" stroke="#111" stroke-width="1.8"/>
<rect x="733.9" y="499.5" width="9.1" height="4" fill="#111"/>
<line x1="742.2" y1="500" x2="742.2" y2="622" stroke="#111" stroke-width="1.7"/>
<line x1="746.4" y1="500" x2="746.4" y2="567.5" stroke="#111" stroke-width="1.5"/>
<rect x="747.1" y="501.5" width="19.8" height="57" fill="#c8c8c8"/>
<line x1="767.4" y1="500" x2="767.4" y2="567.5" stroke="#111" stroke-width="1.6"/>
<line x1="772.9" y1="502" x2="772.9" y2="580" stroke="#111" stroke-width="1.5"/>
<line x1="770.3" y1="502" x2="770.3" y2="566" stroke="#d2d2d2" stroke-width="1.2"/>
<rect x="746.4" y="558.3" width="21" height="9.5" fill="#222"/>
<rect x="751.3" y="559.9" width="9.8" height="6.8" fill="#f4ad82"/>
<rect x="747.3" y="560.5" width="2.6" height="5.5" fill="#d8d8d8"/>
<rect x="762.9" y="560.5" width="3" height="5.5" fill="#d8d8d8"/>
<rect x="743.0" y="568.2" width="30" height="11" fill="#c9c9cc" stroke="#111" stroke-width="1.6"/>
<path d="M740.7,579.7 H773.1" fill="none" stroke="#111" stroke-width="1.9"/>
<line x1="773.1" y1="579" x2="773.1" y2="622.5" stroke="#111" stroke-width="1.9"/>
<path d="M741.3,597 C745.5,598 748.0,602 748.7,609 Q749.5,614 751.5,613.8 Q754.8,613.5 755.3,606 L754.8,592.2 H763.1 L763.5,602 Q763.8,613 767.0,613.3 H770.2 V622" fill="none" stroke="#111" stroke-width="1.9" stroke-linejoin="round"/>
<path d="M781.5,612 L778.8,619.5 H774.3" fill="none" stroke="#111" stroke-width="1.6"/>
<line x1="773.8" y1="500" x2="773.8" y2="620" stroke="#111" stroke-width="1.8"/>
<rect x="773.1999999999999" y="499.5" width="9.1" height="4" fill="#111"/>
<line x1="781.5" y1="500" x2="781.5" y2="622" stroke="#111" stroke-width="1.7"/>
<line x1="785.6999999999999" y1="500" x2="785.6999999999999" y2="567.5" stroke="#111" stroke-width="1.5"/>
<rect x="786.4" y="501.5" width="19.8" height="57" fill="#c8c8c8"/>
<line x1="806.6999999999999" y1="500" x2="806.6999999999999" y2="567.5" stroke="#111" stroke-width="1.6"/>
<line x1="812.1999999999999" y1="502" x2="812.1999999999999" y2="580" stroke="#111" stroke-width="1.5"/>
<line x1="809.5999999999999" y1="502" x2="809.5999999999999" y2="566" stroke="#d2d2d2" stroke-width="1.2"/>
<rect x="785.6999999999999" y="558.3" width="21" height="9.5" fill="#222"/>
<rect x="790.5999999999999" y="559.9" width="9.8" height="6.8" fill="#f4ad82"/>
<rect x="786.5999999999999" y="560.5" width="2.6" height="5.5" fill="#d8d8d8"/>
<rect x="802.1999999999999" y="560.5" width="3" height="5.5" fill="#d8d8d8"/>
<rect x="782.3" y="568.2" width="30" height="11" fill="#c9c9cc" stroke="#111" stroke-width="1.6"/>
<path d="M780.0,579.7 H812.4" fill="none" stroke="#111" stroke-width="1.9"/>
<line x1="812.4" y1="579" x2="812.4" y2="622.5" stroke="#111" stroke-width="1.9"/>
<path d="M780.5999999999999,597 C784.8,598 787.3,602 788.0,609 Q788.8,614 790.8,613.8 Q794.0999999999999,613.5 794.5999999999999,606 L794.0999999999999,592.2 H802.4 L802.8,602 Q803.0999999999999,613 806.3,613.3 H809.5 V622" fill="none" stroke="#111" stroke-width="1.9" stroke-linejoin="round"/>
<line x1="812.6" y1="500" x2="812.6" y2="622" stroke="#111" stroke-width="1.7"/>
<rect x="812" y="499.5" width="9" height="4" fill="#111"/>
<line x1="583.5" y1="622.8" x2="818.7" y2="622.8" stroke="#111" stroke-width="2.2"/>
<line x1="583.5" y1="622" x2="583.5" y2="761" stroke="#111" stroke-width="2.1"/>
<line x1="622.7" y1="622" x2="622.7" y2="761" stroke="#111" stroke-width="2.1"/>
<line x1="661.9" y1="622" x2="661.9" y2="761" stroke="#111" stroke-width="2.1"/>
<line x1="701.1" y1="622" x2="701.1" y2="761" stroke="#111" stroke-width="2.1"/>
<line x1="740.3" y1="622" x2="740.3" y2="761" stroke="#111" stroke-width="2.1"/>
<line x1="779.5" y1="622" x2="779.5" y2="761" stroke="#111" stroke-width="2.1"/>
<line x1="818.7" y1="622" x2="818.7" y2="761" stroke="#111" stroke-width="2.1"/>
<rect x="595.0" y="656.3" width="28.2" height="34.3" fill="#111"/>
<rect x="599.4" y="660" width="10" height="27" fill="#f9e000"/>
<rect x="610.0" y="660.5" width="6" height="26" fill="#24241c"/>
<rect x="616.9" y="660.8" width="6.4" height="25.6" fill="#c0c0c0"/>
<path d="M583.5,701.5 L586.0,698.3 H622.7 M583.5,734 L586.0,731 H622.7" fill="none" stroke="#111" stroke-width="2"/>
<rect x="634.2" y="656.3" width="28.2" height="34.3" fill="#111"/>
<rect x="638.6" y="660" width="10" height="27" fill="#f9e000"/>
<rect x="649.2" y="660.5" width="6" height="26" fill="#24241c"/>
<rect x="656.1" y="660.8" width="6.4" height="25.6" fill="#c0c0c0"/>
<path d="M622.7,701.5 L625.2,698.3 H661.9000000000001 M622.7,734 L625.2,731 H661.9000000000001" fill="none" stroke="#111" stroke-width="2"/>
<rect x="673.4" y="656.3" width="28.2" height="34.3" fill="#111"/>
<rect x="677.8" y="660" width="10" height="27" fill="#f9e000"/>
<rect x="688.4" y="660.5" width="6" height="26" fill="#24241c"/>
<rect x="695.3" y="660.8" width="6.4" height="25.6" fill="#c0c0c0"/>
<path d="M661.9,701.5 L664.4,698.3 H701.1 M661.9,734 L664.4,731 H701.1" fill="none" stroke="#111" stroke-width="2"/>
<rect x="712.6" y="656.3" width="28.2" height="34.3" fill="#111"/>
<rect x="717.0" y="660" width="10" height="27" fill="#f9e000"/>
<rect x="727.6" y="660.5" width="6" height="26" fill="#24241c"/>
<rect x="734.5" y="660.8" width="6.4" height="25.6" fill="#c0c0c0"/>
<path d="M701.1,701.5 L703.6,698.3 H740.3000000000001 M701.1,734 L703.6,731 H740.3000000000001" fill="none" stroke="#111" stroke-width="2"/>
<rect x="751.8" y="656.3" width="28.2" height="34.3" fill="#111"/>
<rect x="756.1999999999999" y="660" width="10" height="27" fill="#f9e000"/>
<rect x="766.8" y="660.5" width="6" height="26" fill="#24241c"/>
<rect x="773.6999999999999" y="660.8" width="6.4" height="25.6" fill="#c0c0c0"/>
<path d="M740.3,701.5 L742.8,698.3 H779.5 M740.3,734 L742.8,731 H779.5" fill="none" stroke="#111" stroke-width="2"/>
<rect x="791.0" y="656.3" width="28.2" height="34.3" fill="#111"/>
<rect x="795.4" y="660" width="10" height="27" fill="#f9e000"/>
<rect x="806.0" y="660.5" width="6" height="26" fill="#24241c"/>
<rect x="812.9" y="660.8" width="6.4" height="25.6" fill="#c0c0c0"/>
<path d="M779.5,701.5 L782.0,698.3 H818.7 M779.5,734 L782.0,731 H818.7" fill="none" stroke="#111" stroke-width="2"/>
</g>
<g clip-path="url(#bvR)">
<path d="M552.9,485 L552.9,623 L571.5,761 H830.5 L849.5,628 L849.2,485 Z" fill="#c0c0c0" stroke="#111" stroke-width="2.8"/>
<path d="M562.2,489 V456 Q563,444.3 569,444.3 H576.5 L578.6,446 V491 H562.2 Z" fill="#c8c8c8"/>
<path d="M565.5,491.5 Q562.4,491.5 562.2,488 V456 Q563,444.3 569,444.3 H576.5 L578.6,446" fill="none" stroke="#111" stroke-width="2.2"/>
<path d="M574.5,491.5 Q576,491 576.6,489" fill="none" stroke="#111" stroke-width="1.8"/>
<line x1="552.9" y1="485.2" x2="562.2" y2="485.2" stroke="#111" stroke-width="2.2"/>
<line x1="563" y1="471.4" x2="576.5" y2="471.4" stroke="#111" stroke-width="1.6"/>
<line x1="563" y1="477" x2="576.5" y2="477" stroke="#111" stroke-width="1.6"/>
<line x1="563" y1="480.5" x2="576.5" y2="480.5" stroke="#111" stroke-width="1.6"/>
<path d="M837,484 V454.6 L829.4,444.8 H822 V491 H837 Z" fill="#c8c8c8"/>
<path d="M834,491.5 Q836.8,491.5 837,488 V454.6 L829.4,444.8 H821" fill="none" stroke="#111" stroke-width="2.2"/>
<path d="M824.5,491.5 Q823,491 822.4,489" fill="none" stroke="#111" stroke-width="1.8"/>
<line x1="837" y1="485.2" x2="849.2" y2="485.2" stroke="#111" stroke-width="2.2"/>
<line x1="822" y1="472.8" x2="836" y2="472.8" stroke="#111" stroke-width="1.6"/>
<line x1="822" y1="478" x2="836" y2="478" stroke="#111" stroke-width="1.6"/>
<line x1="822" y1="482" x2="836" y2="482" stroke="#111" stroke-width="1.6"/>
<rect x="577.3" y="446.3" width="244" height="54" fill="#c0c0c0" stroke="#111" stroke-width="2.2"/>
<line x1="577.3" y1="446.3" x2="821.3" y2="446.3" stroke="#111" stroke-width="3.2"/>
<line x1="577.3" y1="500" x2="577.3" y2="617" stroke="#111" stroke-width="2.2"/>
<line x1="577.3" y1="617" x2="583.5" y2="625" stroke="#111" stroke-width="2.2"/>
<line x1="821.3" y1="500" x2="821.3" y2="617" stroke="#111" stroke-width="2.2"/>
<line x1="821.3" y1="617" x2="818.7" y2="625" stroke="#111" stroke-width="2.2"/>
<rect x="576.6999999999999" y="499.5" width="9.1" height="4" fill="#111"/>
<line x1="585.0" y1="500" x2="585.0" y2="622" stroke="#111" stroke-width="1.7"/>
<line x1="589.1999999999999" y1="500" x2="589.1999999999999" y2="567.5" stroke="#111" stroke-width="1.5"/>
<rect x="589.9" y="501.5" width="19.8" height="57" fill="#c8c8c8"/>
<line x1="610.1999999999999" y1="500" x2="610.1999999999999" y2="567.5" stroke="#111" stroke-width="1.6"/>
<line x1="615.6999999999999" y1="502" x2="615.6999999999999" y2="580" stroke="#111" stroke-width="1.5"/>
<line x1="613.0999999999999" y1="502" x2="613.0999999999999" y2="566" stroke="#d2d2d2" stroke-width="1.2"/>
<rect x="589.1999999999999" y="558.3" width="21" height="9.5" fill="#222"/>
<rect x="594.0999999999999" y="559.9" width="9.8" height="6.8" fill="#f4ad82"/>
<rect x="590.0999999999999" y="560.5" width="2.6" height="5.5" fill="#d8d8d8"/>
<rect x="605.6999999999999" y="560.5" width="3" height="5.5" fill="#d8d8d8"/>
<rect x="585.8" y="568.2" width="30" height="11" fill="#c9c9cc" stroke="#111" stroke-width="1.6"/>
<path d="M583.5,579.7 H615.9" fill="none" stroke="#111" stroke-width="1.9"/>
<line x1="615.9" y1="579" x2="615.9" y2="622.5" stroke="#111" stroke-width="1.9"/>
<path d="M584.0999999999999,597 C588.3,598 590.8,602 591.5,609 Q592.3,614 594.3,613.8 Q597.5999999999999,613.5 598.0999999999999,606 L597.5999999999999,592.2 H605.9 L606.3,602 Q606.5999999999999,613 609.8,613.3 H613.0 V622" fill="none" stroke="#111" stroke-width="1.9" stroke-linejoin="round"/>
<path d="M624.3,612 L621.5999999999999,619.5 H617.0999999999999" fill="none" stroke="#111" stroke-width="1.6"/>
<line x1="616.5999999999999" y1="500" x2="616.5999999999999" y2="620" stroke="#111" stroke-width="1.8"/>
<rect x="615.9999999999999" y="499.5" width="9.1" height="4" fill="#111"/>
<line x1="624.3" y1="500" x2="624.3" y2="622" stroke="#111" stroke-width="1.7"/>
<line x1="628.4999999999999" y1="500" x2="628.4999999999999" y2="567.5" stroke="#111" stroke-width="1.5"/>
<rect x="629.1999999999999" y="501.5" width="19.8" height="57" fill="#c8c8c8"/>
<line x1="649.4999999999999" y1="500" x2="649.4999999999999" y2="567.5" stroke="#111" stroke-width="1.6"/>
<line x1="654.9999999999999" y1="502" x2="654.9999999999999" y2="580" stroke="#111" stroke-width="1.5"/>
<line x1="652.3999999999999" y1="502" x2="652.3999999999999" y2="566" stroke="#d2d2d2" stroke-width="1.2"/>
<rect x="628.4999999999999" y="558.3" width="21" height="9.5" fill="#222"/>
<rect x="633.3999999999999" y="559.9" width="9.8" height="6.8" fill="#f4ad82"/>
<rect x="629.3999999999999" y="560.5" width="2.6" height="5.5" fill="#d8d8d8"/>
<rect x="644.9999999999999" y="560.5" width="3" height="5.5" fill="#d8d8d8"/>
<rect x="625.0999999999999" y="568.2" width="30" height="11" fill="#c9c9cc" stroke="#111" stroke-width="1.6"/>
<path d="M622.8,579.7 H655.1999999999999" fill="none" stroke="#111" stroke-width="1.9"/>
<line x1="655.1999999999999" y1="579" x2="655.1999999999999" y2="622.5" stroke="#111" stroke-width="1.9"/>
<path d="M623.3999999999999,597 C627.5999999999999,598 630.0999999999999,602 630.8,609 Q631.5999999999999,614 633.5999999999999,613.8 Q636.8999999999999,613.5 637.3999999999999,606 L636.8999999999999,592.2 H645.1999999999999 L645.5999999999999,602 Q645.8999999999999,613 649.0999999999999,613.3 H652.3 V622" fill="none" stroke="#111" stroke-width="1.9" stroke-linejoin="round"/>
<path d="M663.5999999999999,612 L660.8999999999999,619.5 H656.3999999999999" fill="none" stroke="#111" stroke-width="1.6"/>
<line x1="655.9" y1="500" x2="655.9" y2="620" stroke="#111" stroke-width="1.8"/>
<rect x="655.3" y="499.5" width="9.1" height="4" fill="#111"/>
<line x1="663.6" y1="500" x2="663.6" y2="622" stroke="#111" stroke-width="1.7"/>
<line x1="667.8" y1="500" x2="667.8" y2="567.5" stroke="#111" stroke-width="1.5"/>
<rect x="668.5" y="501.5" width="19.8" height="57" fill="#c8c8c8"/>
<line x1="688.8" y1="500" x2="688.8" y2="567.5" stroke="#111" stroke-width="1.6"/>
<line x1="694.3" y1="502" x2="694.3" y2="580" stroke="#111" stroke-width="1.5"/>
<line x1="691.6999999999999" y1="502" x2="691.6999999999999" y2="566" stroke="#d2d2d2" stroke-width="1.2"/>
<rect x="667.8" y="558.3" width="21" height="9.5" fill="#222"/>
<rect x="672.6999999999999" y="559.9" width="9.8" height="6.8" fill="#f4ad82"/>
<rect x="668.6999999999999" y="560.5" width="2.6" height="5.5" fill="#d8d8d8"/>
<rect x="684.3" y="560.5" width="3" height="5.5" fill="#d8d8d8"/>
<rect x="664.4" y="568.2" width="30" height="11" fill="#c9c9cc" stroke="#111" stroke-width="1.6"/>
<path d="M662.1,579.7 H694.5" fill="none" stroke="#111" stroke-width="1.9"/>
<line x1="694.5" y1="579" x2="694.5" y2="622.5" stroke="#111" stroke-width="1.9"/>
<path d="M662.6999999999999,597 C666.9,598 669.4,602 670.1,609 Q670.9,614 672.9,613.8 Q676.1999999999999,613.5 676.6999999999999,606 L676.1999999999999,592.2 H684.5 L684.9,602 Q685.1999999999999,613 688.4,613.3 H691.6 V622" fill="none" stroke="#111" stroke-width="1.9" stroke-linejoin="round"/>
<path d="M702.9,612 L700.1999999999999,619.5 H695.6999999999999" fill="none" stroke="#111" stroke-width="1.6"/>
<line x1="695.1999999999999" y1="500" x2="695.1999999999999" y2="620" stroke="#111" stroke-width="1.8"/>
<rect x="694.5999999999999" y="499.5" width="9.1" height="4" fill="#111"/>
<line x1="702.9" y1="500" x2="702.9" y2="622" stroke="#111" stroke-width="1.7"/>
<line x1="707.0999999999999" y1="500" x2="707.0999999999999" y2="567.5" stroke="#111" stroke-width="1.5"/>
<rect x="707.8" y="501.5" width="19.8" height="57" fill="#c8c8c8"/>
<line x1="728.0999999999999" y1="500" x2="728.0999999999999" y2="567.5" stroke="#111" stroke-width="1.6"/>
<line x1="733.5999999999999" y1="502" x2="733.5999999999999" y2="580" stroke="#111" stroke-width="1.5"/>
<line x1="730.9999999999999" y1="502" x2="730.9999999999999" y2="566" stroke="#d2d2d2" stroke-width="1.2"/>
<rect x="707.0999999999999" y="558.3" width="21" height="9.5" fill="#222"/>
<rect x="711.9999999999999" y="559.9" width="9.8" height="6.8" fill="#f4ad82"/>
<rect x="707.9999999999999" y="560.5" width="2.6" height="5.5" fill="#d8d8d8"/>
<rect x="723.5999999999999" y="560.5" width="3" height="5.5" fill="#d8d8d8"/>
<rect x="703.6999999999999" y="568.2" width="30" height="11" fill="#c9c9cc" stroke="#111" stroke-width="1.6"/>
<path d="M701.4,579.7 H733.8" fill="none" stroke="#111" stroke-width="1.9"/>
<line x1="733.8" y1="579" x2="733.8" y2="622.5" stroke="#111" stroke-width="1.9"/>
<path d="M701.9999999999999,597 C706.1999999999999,598 708.6999999999999,602 709.4,609 Q710.1999999999999,614 712.1999999999999,613.8 Q715.4999999999999,613.5 715.9999999999999,606 L715.4999999999999,592.2 H723.8 L724.1999999999999,602 Q724.4999999999999,613 727.6999999999999,613.3 H730.9 V622" fill="none" stroke="#111" stroke-width="1.9" stroke-linejoin="round"/>
<path d="M742.1999999999999,612 L739.4999999999999,619.5 H734.9999999999999" fill="none" stroke="#111" stroke-width="1.6"/>
<line x1="734.5" y1="500" x2="734.5" y2="620" stroke="#111" stroke-width="1.8"/>
<rect x="733.9" y="499.5" width="9.1" height="4" fill="#111"/>
<line x1="742.2" y1="500" x2="742.2" y2="622" stroke="#111" stroke-width="1.7"/>
<line x1="746.4" y1="500" x2="746.4" y2="567.5" stroke="#111" stroke-width="1.5"/>
<rect x="747.1" y="501.5" width="19.8" height="57" fill="#c8c8c8"/>
<line x1="767.4" y1="500" x2="767.4" y2="567.5" stroke="#111" stroke-width="1.6"/>
<line x1="772.9" y1="502" x2="772.9" y2="580" stroke="#111" stroke-width="1.5"/>
<line x1="770.3" y1="502" x2="770.3" y2="566" stroke="#d2d2d2" stroke-width="1.2"/>
<rect x="746.4" y="558.3" width="21" height="9.5" fill="#222"/>
<rect x="751.3" y="559.9" width="9.8" height="6.8" fill="#f4ad82"/>
<rect x="747.3" y="560.5" width="2.6" height="5.5" fill="#d8d8d8"/>
<rect x="762.9" y="560.5" width="3" height="5.5" fill="#d8d8d8"/>
<rect x="743.0" y="568.2" width="30" height="11" fill="#c9c9cc" stroke="#111" stroke-width="1.6"/>
<path d="M740.7,579.7 H773.1" fill="none" stroke="#111" stroke-width="1.9"/>
<line x1="773.1" y1="579" x2="773.1" y2="622.5" stroke="#111" stroke-width="1.9"/>
<path d="M741.3,597 C745.5,598 748.0,602 748.7,609 Q749.5,614 751.5,613.8 Q754.8,613.5 755.3,606 L754.8,592.2 H763.1 L763.5,602 Q763.8,613 767.0,613.3 H770.2 V622" fill="none" stroke="#111" stroke-width="1.9" stroke-linejoin="round"/>
<path d="M781.5,612 L778.8,619.5 H774.3" fill="none" stroke="#111" stroke-width="1.6"/>
<line x1="773.8" y1="500" x2="773.8" y2="620" stroke="#111" stroke-width="1.8"/>
<rect x="773.1999999999999" y="499.5" width="9.1" height="4" fill="#111"/>
<line x1="781.5" y1="500" x2="781.5" y2="622" stroke="#111" stroke-width="1.7"/>
<line x1="785.6999999999999" y1="500" x2="785.6999999999999" y2="567.5" stroke="#111" stroke-width="1.5"/>
<rect x="786.4" y="501.5" width="19.8" height="57" fill="#c8c8c8"/>
<line x1="806.6999999999999" y1="500" x2="806.6999999999999" y2="567.5" stroke="#111" stroke-width="1.6"/>
<line x1="812.1999999999999" y1="502" x2="812.1999999999999" y2="580" stroke="#111" stroke-width="1.5"/>
<line x1="809.5999999999999" y1="502" x2="809.5999999999999" y2="566" stroke="#d2d2d2" stroke-width="1.2"/>
<rect x="785.6999999999999" y="558.3" width="21" height="9.5" fill="#222"/>
<rect x="790.5999999999999" y="559.9" width="9.8" height="6.8" fill="#f4ad82"/>
<rect x="786.5999999999999" y="560.5" width="2.6" height="5.5" fill="#d8d8d8"/>
<rect x="802.1999999999999" y="560.5" width="3" height="5.5" fill="#d8d8d8"/>
<rect x="782.3" y="568.2" width="30" height="11" fill="#c9c9cc" stroke="#111" stroke-width="1.6"/>
<path d="M780.0,579.7 H812.4" fill="none" stroke="#111" stroke-width="1.9"/>
<line x1="812.4" y1="579" x2="812.4" y2="622.5" stroke="#111" stroke-width="1.9"/>
<path d="M780.5999999999999,597 C784.8,598 787.3,602 788.0,609 Q788.8,614 790.8,613.8 Q794.0999999999999,613.5 794.5999999999999,606 L794.0999999999999,592.2 H802.4 L802.8,602 Q803.0999999999999,613 806.3,613.3 H809.5 V622" fill="none" stroke="#111" stroke-width="1.9" stroke-linejoin="round"/>
<line x1="812.6" y1="500" x2="812.6" y2="622" stroke="#111" stroke-width="1.7"/>
<rect x="812" y="499.5" width="9" height="4" fill="#111"/>
<line x1="583.5" y1="622.8" x2="818.7" y2="622.8" stroke="#111" stroke-width="2.2"/>
<line x1="583.5" y1="622" x2="583.5" y2="761" stroke="#111" stroke-width="2.1"/>
<line x1="622.7" y1="622" x2="622.7" y2="761" stroke="#111" stroke-width="2.1"/>
<line x1="661.9" y1="622" x2="661.9" y2="761" stroke="#111" stroke-width="2.1"/>
<line x1="701.1" y1="622" x2="701.1" y2="761" stroke="#111" stroke-width="2.1"/>
<line x1="740.3" y1="622" x2="740.3" y2="761" stroke="#111" stroke-width="2.1"/>
<line x1="779.5" y1="622" x2="779.5" y2="761" stroke="#111" stroke-width="2.1"/>
<line x1="818.7" y1="622" x2="818.7" y2="761" stroke="#111" stroke-width="2.1"/>
<rect x="595.0" y="656.3" width="28.2" height="34.3" fill="#111"/>
<rect x="599.4" y="660" width="10" height="27" fill="#f9e000"/>
<rect x="610.0" y="660.5" width="6" height="26" fill="#24241c"/>
<rect x="616.9" y="660.8" width="6.4" height="25.6" fill="#c0c0c0"/>
<path d="M583.5,701.5 L586.0,698.3 H622.7 M583.5,734 L586.0,731 H622.7" fill="none" stroke="#111" stroke-width="2"/>
<rect x="634.2" y="656.3" width="28.2" height="34.3" fill="#111"/>
<rect x="638.6" y="660" width="10" height="27" fill="#f9e000"/>
<rect x="649.2" y="660.5" width="6" height="26" fill="#24241c"/>
<rect x="656.1" y="660.8" width="6.4" height="25.6" fill="#c0c0c0"/>
<path d="M622.7,701.5 L625.2,698.3 H661.9000000000001 M622.7,734 L625.2,731 H661.9000000000001" fill="none" stroke="#111" stroke-width="2"/>
<rect x="673.4" y="656.3" width="28.2" height="34.3" fill="#111"/>
<rect x="677.8" y="660" width="10" height="27" fill="#f9e000"/>
<rect x="688.4" y="660.5" width="6" height="26" fill="#24241c"/>
<rect x="695.3" y="660.8" width="6.4" height="25.6" fill="#c0c0c0"/>
<path d="M661.9,701.5 L664.4,698.3 H701.1 M661.9,734 L664.4,731 H701.1" fill="none" stroke="#111" stroke-width="2"/>
<rect x="712.6" y="656.3" width="28.2" height="34.3" fill="#111"/>
<rect x="717.0" y="660" width="10" height="27" fill="#f9e000"/>
<rect x="727.6" y="660.5" width="6" height="26" fill="#24241c"/>
<rect x="734.5" y="660.8" width="6.4" height="25.6" fill="#c0c0c0"/>
<path d="M701.1,701.5 L703.6,698.3 H740.3000000000001 M701.1,734 L703.6,731 H740.3000000000001" fill="none" stroke="#111" stroke-width="2"/>
<rect x="751.8" y="656.3" width="28.2" height="34.3" fill="#111"/>
<rect x="756.1999999999999" y="660" width="10" height="27" fill="#f9e000"/>
<rect x="766.8" y="660.5" width="6" height="26" fill="#24241c"/>
<rect x="773.6999999999999" y="660.8" width="6.4" height="25.6" fill="#c0c0c0"/>
<path d="M740.3,701.5 L742.8,698.3 H779.5 M740.3,734 L742.8,731 H779.5" fill="none" stroke="#111" stroke-width="2"/>
<rect x="791.0" y="656.3" width="28.2" height="34.3" fill="#111"/>
<rect x="795.4" y="660" width="10" height="27" fill="#f9e000"/>
<rect x="806.0" y="660.5" width="6" height="26" fill="#24241c"/>
<rect x="812.9" y="660.8" width="6.4" height="25.6" fill="#c0c0c0"/>
<path d="M779.5,701.5 L782.0,698.3 H818.7 M779.5,734 L782.0,731 H818.7" fill="none" stroke="#111" stroke-width="2"/>
</g>
<path d="M687.4,446.6 C687.3,448.2 686.3,452.1 686.6,456.5 C686.9,460.9 688.7,467.5 689.0,473.0 C689.3,478.5 689.1,484.1 688.6,489.6 C688.1,495.1 686.3,500.5 685.7,506.0 C685.1,511.5 685.0,517.1 684.9,522.6 C684.8,528.1 684.8,533.5 684.9,539.0 C685.0,544.5 685.2,550.2 685.7,555.7 C686.2,561.2 687.5,566.7 688.2,572.2 C689.0,577.7 690.0,583.7 690.2,588.8 C690.4,593.9 689.9,598.3 689.5,603.0 C689.1,607.7 688.1,611.8 687.7,617.0 C687.3,622.2 687.0,628.3 686.9,634.0 C686.8,639.7 687.0,645.3 687.2,651.0 C687.4,656.7 687.9,662.3 688.2,668.0 C688.5,673.7 688.5,679.3 688.9,685.0 C689.3,690.7 690.5,696.3 690.6,702.0 C690.7,707.7 689.2,713.3 689.4,719.0 C689.6,724.7 691.4,730.4 692.0,736.0 C692.6,741.6 692.6,748.6 692.8,752.8 C693.0,757.0 693.2,759.9 693.3,761.3" fill="none" stroke="#111" stroke-width="2.2"/>
<path d="M702.3,446.6 C702.3,448.2 701.9,452.1 702.3,456.5 C702.7,460.9 704.4,467.5 704.8,473.0 C705.2,478.5 705.4,484.1 704.8,489.6 C704.2,495.1 702.1,500.5 701.4,506.0 C700.7,511.5 700.7,517.1 700.6,522.6 C700.5,528.1 700.5,533.5 700.6,539.0 C700.7,544.5 700.9,550.2 701.4,555.7 C701.9,561.2 703.3,566.7 703.9,572.2 C704.5,577.7 705.1,583.7 705.2,588.8 C705.3,593.9 704.9,598.3 704.5,603.0 C704.1,607.7 703.4,611.8 703.0,617.0 C702.6,622.2 702.3,628.3 702.2,634.0 C702.1,639.7 702.1,645.3 702.2,651.0 C702.3,656.7 702.7,662.3 703.0,668.0 C703.3,673.7 703.6,679.3 704.2,685.0 C704.8,690.7 706.2,696.3 706.4,702.0 C706.6,707.7 705.1,713.3 705.2,719.0 C705.4,724.7 706.8,730.4 707.3,736.0 C707.8,741.6 708.0,748.6 708.1,752.8 C708.2,757.0 708.1,759.9 708.1,761.3" fill="none" stroke="#111" stroke-width="2.2"/>
</svg></body></html>
